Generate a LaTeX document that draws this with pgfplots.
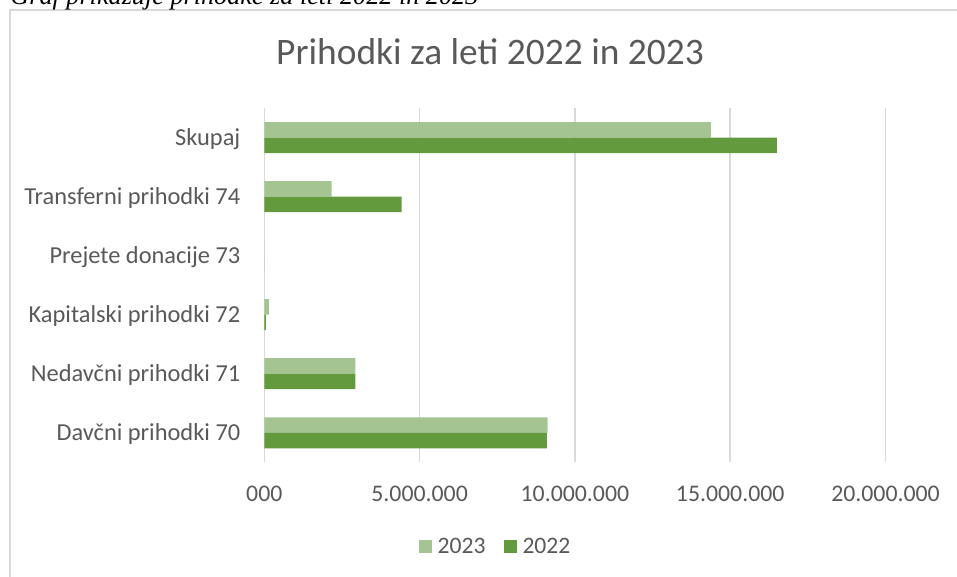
\documentclass[border=0pt]{standalone}
\usepackage{fontspec}
\setmainfont{Carlito}
\newfontfamily\capfont{Liberation Serif}
\usepackage{pgfplots}
\usepackage{pgfplotstable}
\pgfplotsset{compat=1.18}
\definecolor{txt}{HTML}{595959}
\definecolor{gridc}{HTML}{D9D9D9}
\definecolor{light}{HTML}{A4C591}
\definecolor{dark}{HTML}{639A3E}

% cat: 0 = Davcni ... 5 = Skupaj
\pgfplotstableread{
cat y2023 y2022
0 9120000 9100000
1 2930000 2930000
2 150000 50000
3 0 0
4 2170000 4420000
5 14380000 16500000
}\prihodki

\begin{document}
\begin{tikzpicture}
\useasboundingbox (0,0) rectangle (478.5pt,288.5pt);
\draw[gridc, line width=0.75pt] (5pt,-5pt) -- (5pt,283.5pt) -- (490pt,283.5pt);
\node[anchor=base west, inner sep=0pt, font=\capfont\itshape\fontsize{13.1}{15}\selectfont] at (5pt,286pt) {Graf prikazuje prihodke za leti 2022 in 2023};
\node[anchor=base, inner sep=0pt, text=txt, font=\fontsize{18.7}{22}\selectfont] at (245pt,256pt) {Prihodki za leti 2022 in 2023};
\begin{axis}[
  at={(132.15pt,57.35pt)}, anchor=south west,
  scale only axis, width=310.6pt, height=177.15pt,
  xbar, bar width=7.75pt,
  xmin=0, xmax=20000000, ymin=-0.5, ymax=5.5,
  xtick={0,5000000,10000000,15000000,20000000},
  xticklabels={000,5.000.000,10.000.000,15.000.000,20.000.000},
  scaled x ticks=false,
  ytick={0,1,2,3,4,5},
  yticklabels={Davčni prihodki 70,Nedavčni prihodki 71\hspace{0.23em},Kapitalski prihodki 72\hspace{0.23em},Prejete donacije 73\hspace{0.23em},Transferni prihodki 74,Skupaj},
  xmajorgrids, grid style={gridc, line width=0.75pt},
  axis line style={draw=none},
  major tick length=0pt,
  tick label style={text=txt, font=\fontsize{11.9}{14}\selectfont, inner sep=0pt},
  xticklabel style={anchor=base, yshift=-19.5pt},
  yticklabel style={anchor=base east, xshift=-11.8pt, yshift=-3.9pt, font=\fontsize{12.2}{14}\selectfont},
  legend columns=2,
  legend style={at={(0.3706,-0.239)}, anchor=center, draw=none, fill=none,
    font=\fontsize{11.8}{14}\selectfont, text=txt, nodes={inner sep=0pt},
    /tikz/every odd column/.append style={column sep=3pt},
    /tikz/every even column/.append style={column sep=9pt}},
  legend image code/.code={\fill[#1] (0pt,-3.25pt) rectangle (6.5pt,3.25pt);},
  clip=false,
]
\addplot[fill=light, draw=none, bar shift=3.875pt] table[x=y2023, y=cat] {\prihodki};
\addplot[fill=dark, draw=none, bar shift=-3.875pt] table[x=y2022, y=cat] {\prihodki};
\legend{2023,2022}
\end{axis}
\end{tikzpicture}
\end{document}
